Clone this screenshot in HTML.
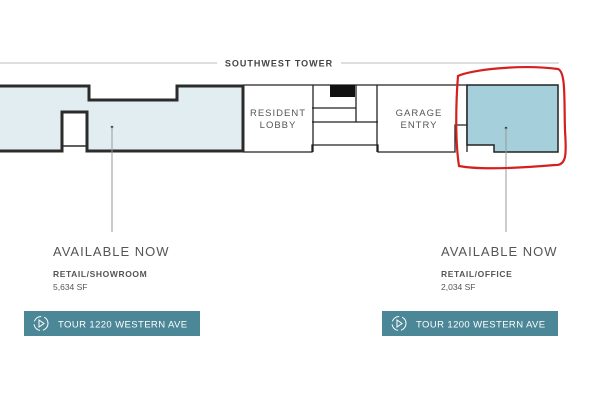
<!DOCTYPE html>
<html><head><style>
body{margin:0;width:600px;height:400px;background:#fff;overflow:hidden;font-family:"Liberation Sans",sans-serif}
</style></head><body>
<svg width="600" height="400" viewBox="0 0 600 400" xmlns="http://www.w3.org/2000/svg">
<line x1="0" y1="63" x2="217" y2="63" stroke="#ccc" stroke-width="1.2"/>
<line x1="341" y1="63" x2="559" y2="63" stroke="#ccc" stroke-width="1.2"/>
<text x="279" y="66.5" text-anchor="middle" font-size="9" font-weight="bold" fill="#444" letter-spacing="1">SOUTHWEST TOWER</text>
<g stroke="#222" stroke-width="1.3" fill="none">
<path d="M243 85 H467 M243 152 H312 V145 H378 V152 H455 V125 H467"/>
<line x1="313" y1="85" x2="313" y2="152"/>
<path d="M312 108 H356 M312 122 H378 M356 85 V122"/>
<line x1="377" y1="85" x2="377" y2="152"/>
<line x1="467" y1="85" x2="467" y2="152"/>
</g>
<rect x="330" y="85" width="25" height="12" fill="#111"/>
<text x="278" y="116" text-anchor="middle" font-size="9.5" fill="#555" letter-spacing="1">RESIDENT</text>
<text x="278" y="128" text-anchor="middle" font-size="9.5" fill="#555" letter-spacing="1">LOBBY</text>
<text x="419" y="116" text-anchor="middle" font-size="9.5" fill="#555" letter-spacing="1">GARAGE</text>
<text x="419" y="128" text-anchor="middle" font-size="9.5" fill="#555" letter-spacing="1">ENTRY</text>
<path d="M-2 86 H89 V100 H177 V86 H243 V151 H87 V112 H62 V151 H-2 Z" fill="#e2edf1" stroke="#2b2b2b" stroke-width="3"/>
<line x1="62" y1="146" x2="87" y2="146" stroke="#2b2b2b" stroke-width="1.5"/>
<path d="M467 85 H558 V152 H494 V145 H467 Z" fill="#a5cfdb" stroke="#222" stroke-width="1.5"/>
<circle cx="112" cy="127" r="1.3" fill="#444"/>
<line x1="112" y1="127" x2="112" y2="232" stroke="#999" stroke-width="1"/>
<circle cx="506" cy="128" r="1.3" fill="#444"/>
<line x1="506" y1="128" x2="506" y2="232" stroke="#999" stroke-width="1"/>
<path d="M458 76 C470 70,520 64,558 69 C566 72,564 100,565 130 C566 150,568 166,555 165 C520 168,480 170,459 166 C455 140,456 100,458 76 Z" fill="none" stroke="#d42020" stroke-width="2.2"/>
<g fill="#555">
<text x="53" y="256" font-size="13" letter-spacing="1">AVAILABLE NOW</text>
<text x="53" y="277" font-size="8.5" font-weight="bold" letter-spacing="0.6">RETAIL/SHOWROOM</text>
<text x="53" y="290" font-size="8.5">5,634 SF</text>
<text x="441" y="256" font-size="13" letter-spacing="1">AVAILABLE NOW</text>
<text x="441" y="277" font-size="8.5" font-weight="bold" letter-spacing="0.6">RETAIL/OFFICE</text>
<text x="441" y="290" font-size="8.5">2,034 SF</text>
</g>
<rect x="24" y="311" width="176" height="25" fill="#4b8797"/>
<rect x="382" y="311" width="176" height="25" fill="#4b8797"/>
<g fill="none" stroke="#fff" stroke-width="1">
<circle cx="41" cy="323.5" r="7" stroke-dasharray="9 3"/>
<path d="M39 320 L44 323.5 L39 327 Z"/>
<circle cx="399" cy="323.5" r="7" stroke-dasharray="9 3"/>
<path d="M397 320 L402 323.5 L397 327 Z"/>
</g>
<text x="58" y="327.5" font-size="9.5" fill="#fff" letter-spacing="0.4">TOUR 1220 WESTERN AVE</text>
<text x="416" y="327.5" font-size="9.5" fill="#fff" letter-spacing="0.4">TOUR 1200 WESTERN AVE</text>
</svg>
</body></html>
